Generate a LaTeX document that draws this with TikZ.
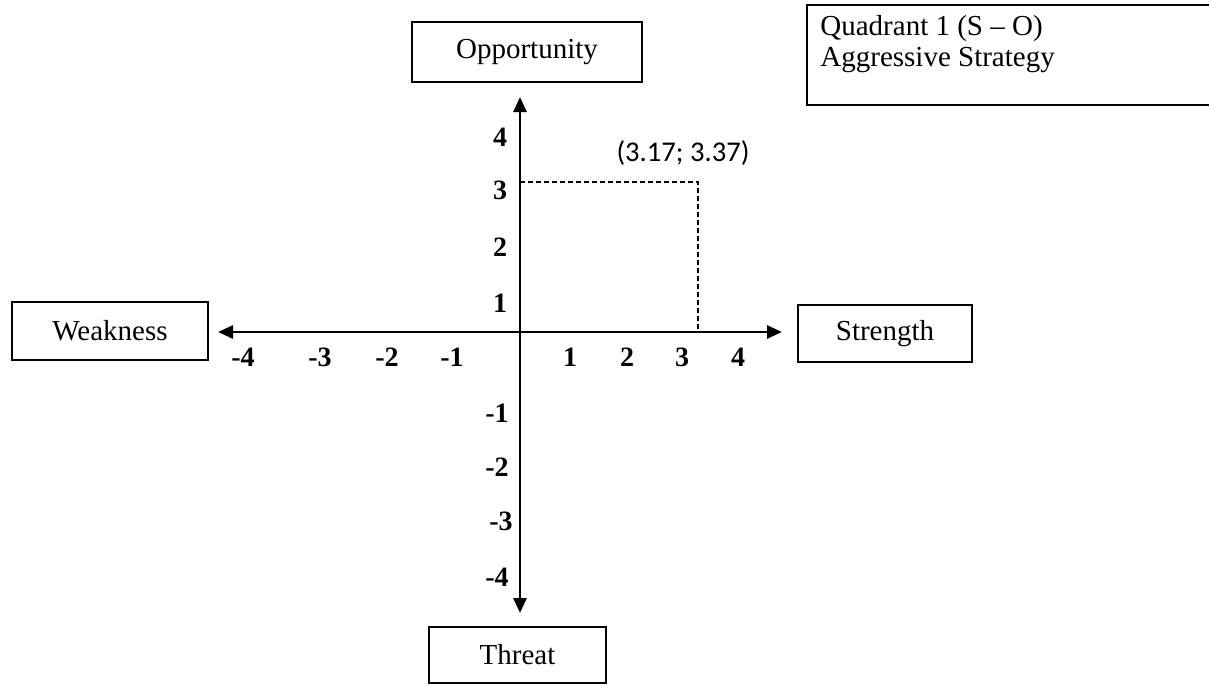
\documentclass[tikz,border=0pt]{standalone}
\usepackage{fontspec}
\setmainfont{Liberation Serif}
\newfontfamily\calfont{Carlito}
\usetikzlibrary{arrows.meta}

\begin{document}
\begin{tikzpicture}[
  x=0.5pt, y=-0.5pt,
  >={Triangle[length=7.5pt, width=6.5pt]},
  box/.style={draw, line width=1pt, inner sep=0pt,
    font=\fontsize{14.5}{15.5}\selectfont},
  num/.style={inner sep=0pt, font=\fontsize{14}{16}\selectfont\bfseries},
  axis/.style={line width=1.4pt}]

  \useasboundingbox (0,0) rectangle (1209,685);
  \clip (0,0) rectangle (1209,685);

  % axes
  \coordinate (O)  at (520,332);
  \coordinate (xl) at (218,332);
  \coordinate (xr) at (782,332);
  \coordinate (yt) at (520,97);
  \coordinate (yb) at (520,613);
  \draw[axis, <->] (xl) -- (xr);
  \draw[axis, <->] (yt) -- (yb);

  % boxes
  \node[box, minimum width=115pt, minimum height=30pt] (opp)  at (527,52)    {Opportunity};
  \node[box, minimum width=98pt,  minimum height=29pt] (weak) at (110,331)   {Weakness};
  \node[box, minimum width=87pt,  minimum height=28.5pt] (str) at (885,333.5) {Strength};
  \node[box, minimum width=88.5pt, minimum height=28pt] (thr) at (517.5,655) {Threat};
  \draw[line width=1pt] (1214,5) -- (807,5) -- (807,105) -- (1214,105);
  \node[inner sep=0pt, anchor=north west, align=left,
    font=\fontsize{14.5}{15.5}\selectfont] (quad) at (820,15)
    {Quadrant 1 (S -- O)\\Aggressive Strategy};

  % x ticks
  \node[num] (xm4) at (243,357) {-4};
  \node[num] (xm3) at (320,357) {-3};
  \node[num] (xm2) at (387,357) {-2};
  \node[num] (xm1) at (452,357) {-1};
  \node[num] (xp1) at (570,357) {1};
  \node[num] (xp2) at (627,357) {2};
  \node[num] (xp3) at (682,357) {3};
  \node[num] (xp4) at (738,357) {4};

  % y ticks
  \node[num] (yp4) at (500,137) {4};
  \node[num] (yp3) at (500,190) {3};
  \node[num] (yp2) at (500,247) {2};
  \node[num] (yp1) at (500,303) {1};
  \node[num] (ym1) at (497,413) {-1};
  \node[num] (ym2) at (497,467) {-2};
  \node[num] (ym3) at (501,521) {-3};
  \node[num] (ym4) at (497,577) {-4};

  % point (3.17; 3.37)
  \coordinate (py) at (520,182);
  \coordinate (P)  at (698,182);
  \coordinate (px) at (698,332);
  \draw[line width=0.6pt, dash pattern=on 2.5pt off 1.5pt] (py) -- (P) -- (px);
  \node[inner sep=0pt, font=\calfont\fontsize{14.3}{16}\selectfont] (pt) at (683,153) {(3.17; 3.37)};
\end{tikzpicture}
\end{document}
